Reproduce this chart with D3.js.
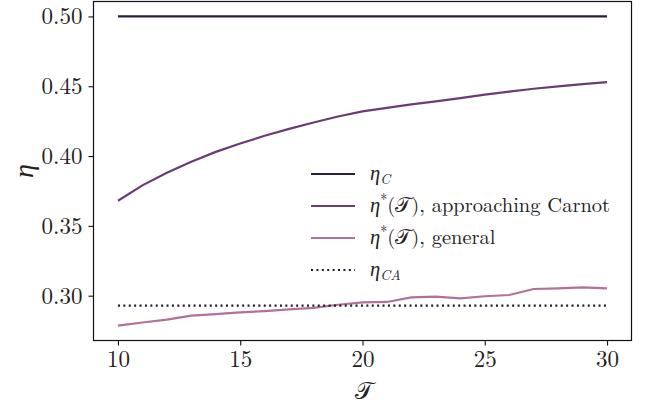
<!DOCTYPE html>
<html><head><meta charset="utf-8">
<script src="https://cdn.jsdelivr.net/npm/d3@7"></script>
<style>
html,body{margin:0;padding:0;background:#fff;}
</style></head>
<body>
<svg id="chart" width="654" height="406"></svg>
<script>
const T = [10,11,12,13,14,15,16,17,18,19,20,21,22,23,24,25,26,27,28,29,30];
const etaC = 0.5;
const etaCA = 0.2929;
const approaching = [0.368,0.379,0.388,0.396,0.403,0.409,0.4145,0.4195,0.424,0.4283,0.432,0.4345,0.437,0.4392,0.4415,0.444,0.4462,0.4482,0.4499,0.4515,0.453];
const general = [0.2786,0.2808,0.2828,0.2857,0.2868,0.288,0.289,0.2902,0.2913,0.2935,0.2952,0.2955,0.2988,0.2993,0.2981,0.2996,0.3005,0.3048,0.3053,0.306,0.3053];
const xTicks = [10,15,20,25,30];
const yTicks = [0.30,0.35,0.40,0.45,0.50];
const colors = {C:"#2d1d3d", app:"#6b3c73", gen:"#b1719b", CA:"#1c1a2c"};
const FONT = "'Latin Modern Roman'";

const svg = d3.select("#chart");
const L=93.5, R=631.5, Tp=1.5, B=340.5;
const x = d3.scaleLinear().domain([9,31]).range([L,R]);
const y = d3.scaleLinear().domain([0.2679,0.5107]).range([B,Tp]);

const g = svg.append("g");
const line = d3.line().x((d,i)=>x(T[i])).y(d=>y(d));
g.append("path").datum(T.map(()=>etaC)).attr("d",line).attr("fill","none").attr("stroke",colors.C).attr("stroke-width",2.2);
g.append("path").datum(approaching).attr("d",line).attr("fill","none").attr("stroke",colors.app).attr("stroke-width",2.2);
g.append("path").datum(general).attr("d",line).attr("fill","none").attr("stroke",colors.gen).attr("stroke-width",2.2);
g.append("path").datum(T.map(()=>etaCA)).attr("d",line).attr("fill","none").attr("stroke",colors.CA).attr("stroke-width",2.2).attr("stroke-dasharray","2,3.4");

svg.append("rect").attr("x",L).attr("y",Tp).attr("width",R-L).attr("height",B-Tp).attr("fill","none").attr("stroke","#111").attr("stroke-width",1.2);

const xAxis = svg.append("g").attr("transform",`translate(0,${B})`)
  .call(d3.axisBottom(x).tickValues(xTicks).tickSize(5).tickPadding(5).tickFormat(d3.format("d")));
const yAxis = svg.append("g").attr("transform",`translate(${L},0)`)
  .call(d3.axisLeft(y).tickValues(yTicks).tickSize(5).tickPadding(6).tickFormat(d3.format(".2f")));
[xAxis,yAxis].forEach(a=>{
  a.attr("font-family",null).attr("font-size",null);
  a.select(".domain").remove();
  a.selectAll(".tick line").attr("stroke","#111").attr("stroke-width",1.1);
  a.selectAll(".tick text").style("font-family",FONT).style("font-size","23px").attr("fill","#222");
});

svg.append("text").attr("x",364).attr("y",399).attr("text-anchor","middle")
  .style("font-family",FONT).style("font-size","24px").attr("fill","#222").text("𝒯");
svg.append("text").attr("transform","translate(33,171) rotate(-90)").attr("text-anchor","middle")
  .style("font-family",FONT).style("font-size","28px").style("font-style","italic").attr("fill","#222").text("η");

const leg = svg.append("g");
const items = [
  {c:colors.C, dash:null, parts:[["η","i"],["C","sub"]]},
  {c:colors.app, dash:null, parts:[["η","i"],["*","sup"],["(","r"],["𝒯",""],"), approaching Carnot"]},
  {c:colors.gen, dash:null, parts:[["η","i"],["*","sup"],["(","r"],["𝒯",""],"), general"]},
  {c:colors.CA, dash:"2,3.4", parts:[["η","i"],["CA","sub"]]}
];
items.forEach((it,i)=>{
  const yy = 174 + i*32;
  leg.append("line").attr("x1",311).attr("x2",355).attr("y1",yy).attr("y2",yy)
    .attr("stroke",it.c).attr("stroke-width",2.2).attr("stroke-dasharray",it.dash);
  const t = leg.append("text").attr("x",370).attr("y",yy+6)
    .style("font-family",FONT).style("font-size","20.5px").attr("fill","#222");
  it.parts.forEach(p=>{
    if(typeof p==="string"){ t.append("tspan").text(p); return; }
    const [s,k]=p;
    const ts = t.append("tspan").text(s);
    if(k==="i") ts.style("font-style","italic");
    if(k==="sub") ts.style("font-style","italic").style("font-size","14px").attr("dy",4);
    if(k==="sup") ts.style("font-size","14px").attr("dy",-8);
    if(k==="r") ts.attr("dy",8);
  });
});
</script>
</body></html>
